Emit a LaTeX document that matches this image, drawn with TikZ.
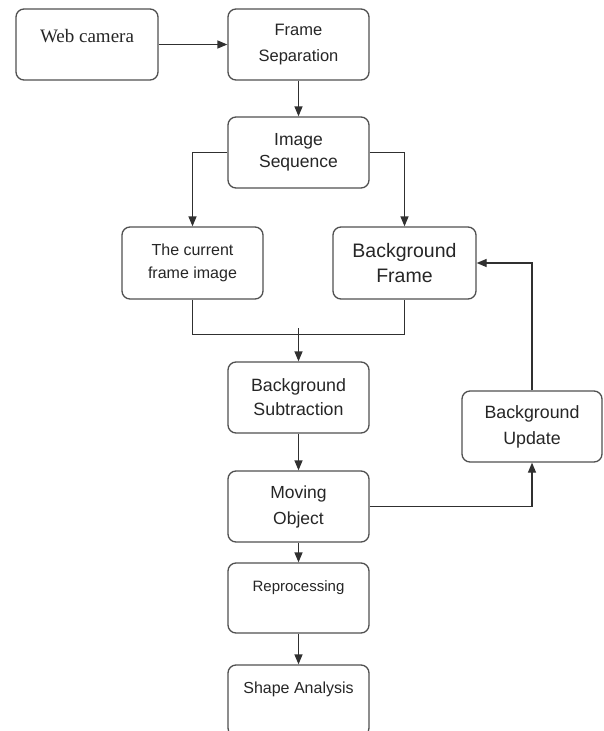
\documentclass[tikz,border=0pt]{standalone}
\usepackage{fontspec}
\setmainfont{Liberation Sans}
\newfontfamily\serifweb{Liberation Serif}
\usetikzlibrary{arrows.meta}
\definecolor{boxline}{HTML}{505050}
\definecolor{conn}{HTML}{303030}
\tikzset{
  box/.style={draw=boxline, line width=1.3pt, rounded corners=8pt, rectangle,
    minimum width=141pt, minimum height=71pt, inner xsep=2pt, inner ysep=0pt,
    align=center, text=black!85},
  conline/.style={draw=conn, line width=1.3pt},
  arr/.style={conline, -{Triangle[length=10pt,width=8pt]}},
}
\begin{document}
\begin{tikzpicture}[x=1pt,y=-1pt]
\useasboundingbox (0,0) rectangle (603,731);
\clip (0,0) rectangle (603,731);
\fill[white] (0,0) rectangle (603,731);

\node[box, minimum width=142pt, font=\serifweb\fontsize{19}{22}\selectfont,
      text height=33.5pt, text depth=37.5pt] (web) at (87,44.5) {Web camera};
\node[box, font=\fontsize{16.5}{26}\selectfont] (frame) at (298.5,44.5) {Frame\\Separation};
\node[box, font=\fontsize{17.5}{22.5}\selectfont] (image) at (298.5,152.5) {Image\\Sequence};
\node[box, minimum height=72pt, font=\fontsize{16}{23}\selectfont] (current) at (192.5,263) {The current\\frame image};
\node[box, minimum width=143pt, minimum height=72pt, font=\fontsize{19.5}{25}\selectfont] (bgf) at (404.5,263) {Background\\Frame};
\node[box, font=\fontsize{17.8}{24}\selectfont] (bs) at (298.5,397.5) {Background\\Subtraction};
\node[box, minimum width=140pt, font=\fontsize{17.8}{26}\selectfont] (bu) at (532,426.5) {Background\\Update};
\node[box, font=\fontsize{17.5}{26}\selectfont] (mo) at (298.5,506.5) {Moving\\Object};
\node[box, minimum height=70pt, font=\fontsize{15}{18}\selectfont,
      text height=28.5pt, text depth=41.5pt] (rep) at (298.5,598) {Reprocessing};
\node[box, font=\fontsize{16}{19}\selectfont,
      text height=28pt, text depth=43pt] (sa) at (298.5,700.5) {Shape Analysis};

\coordinate (merge) at (298.5,328);

\draw[arr] (web.east) -- (frame.west);
\draw[arr] (frame.south) -- (image.north);
\draw[arr] (image.west) -| (current.north);
\draw[arr] (image.east) -| (bgf.north);
\draw[conline] (current.south) -- ++(0,35) -| (bgf.south);
\draw[arr] (merge) -- (bs.north);
\draw[arr] (bs.south) -- (mo.north);
\draw[arr] (mo.east) -| (bu.south);
\draw[arr] (bu.north) |- (bgf.east);
\draw[arr] (mo.south) -- (rep.north);
\draw[arr] (rep.south) -- (sa.north);
\end{tikzpicture}
\end{document}
